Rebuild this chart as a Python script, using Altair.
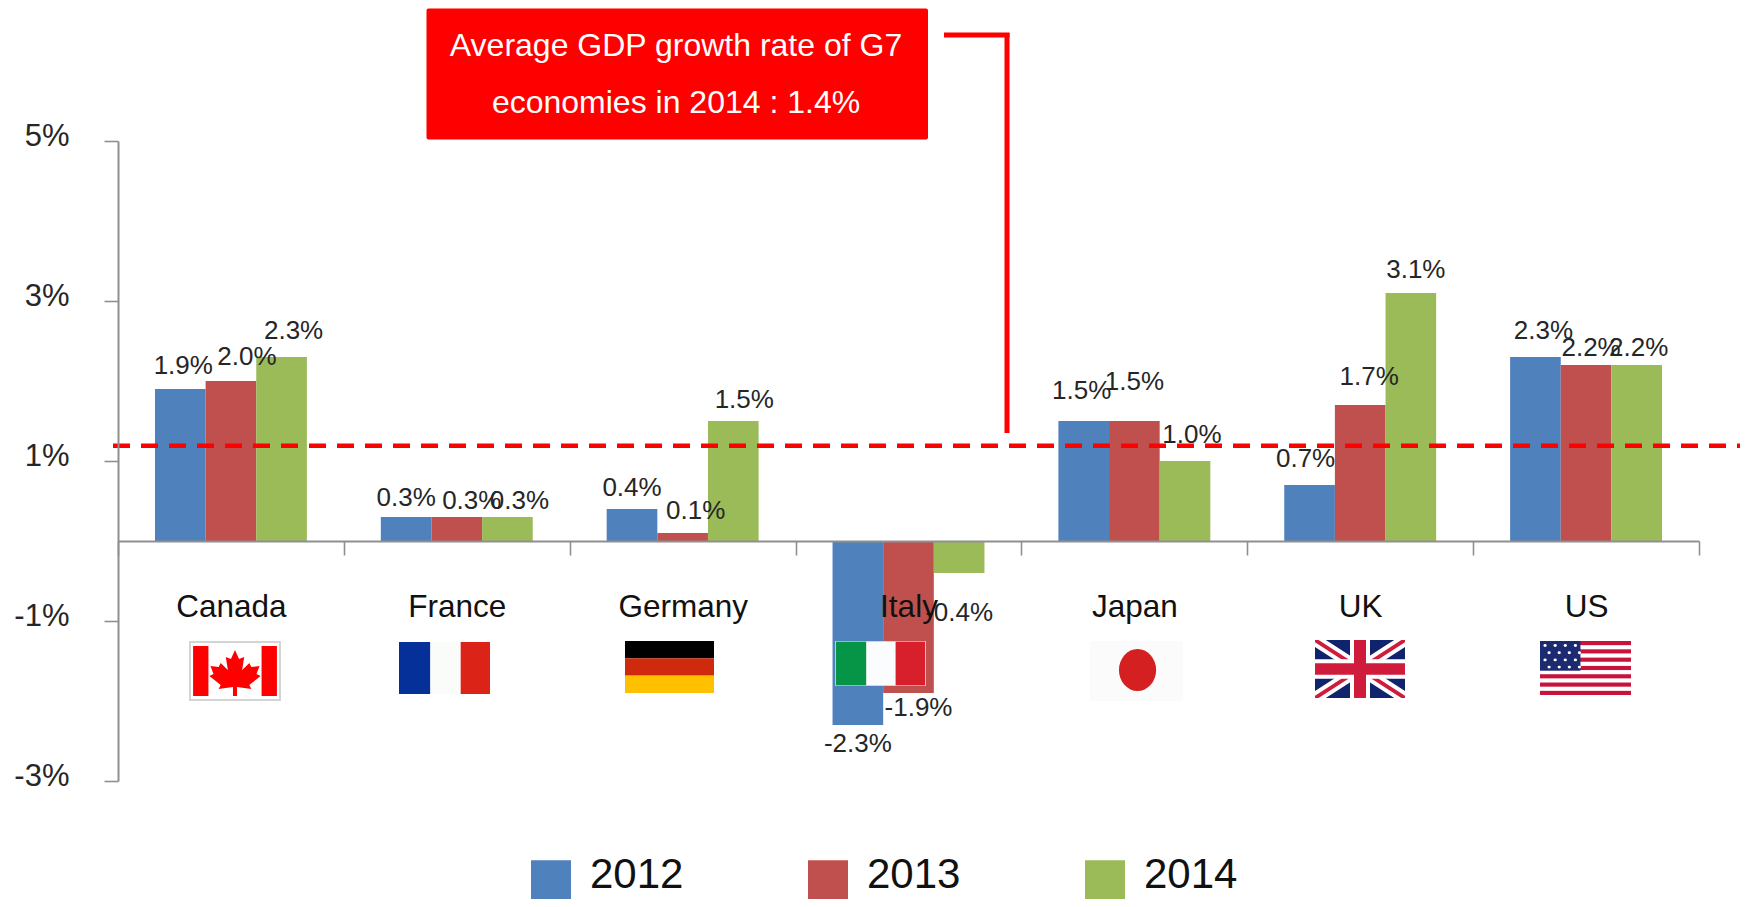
import base64
import altair as alt
import pandas as pd

# ---- chart values ----
countries = ["Canada", "France", "Germany", "Italy", "Japan", "UK", "US"]
years = ["2012", "2013", "2014"]
values_2012 = [1.9, 0.3, 0.4, -2.3, 1.5, 0.7, 2.3]
values_2013 = [2.0, 0.3, 0.1, -1.9, 1.5, 1.7, 2.2]
values_2014 = [2.3, 0.3, 1.5, -0.4, 1.0, 3.1, 2.2]
y_ticks = [-3, -1, 1, 3, 5]
average_line = 1.19
note_lines = ["Average GDP growth rate of G7", "economies in 2014 : 1.4%"]

# ---- styling ----
colors = ["#4f81bd", "#c0504d", "#9bbb59"]
FONT = "Liberation Sans"
AXIS = "#8f8f8f"
TEXT = "#262626"
OX, OY = 118, 141  # page position of plot origin
W, H = 1581, 640

# per-label nudges (dx, dy) in px, in row order country x year
label_nudges = [
    (3, -23), (16, -24), (12, -26),
    (0, -19), (15, -16), (12, -16),
    (0, -21), (13, -22), (11, -21),
    (0, 19), (10, 15), (0, 40),
    (-2, -30), (0, -39), (7, -26),
    (-4, -26), (9, -28), (5, -23),
    (8, -26), (5, -17), (2, -17),
]


def uri(body, w=90, h=60):
    svg = (f'<svg xmlns="http://www.w3.org/2000/svg" viewBox="0 0 {w} {h}" width="{w}" height="{h}" '
           f'preserveAspectRatio="none">{body}</svg>')
    return "data:image/svg+xml;base64," + base64.b64encode(svg.encode()).decode()


leaf = ("M45 9 L49 18 L54 16 L52 29 L59 22 L61 26 L69 25 L66 33 L70 35 L59 44 L61 48 L47 46 L47 55 "
        "L43 55 L43 46 L29 48 L31 44 L20 35 L24 33 L21 25 L29 26 L31 22 L38 29 L36 16 L41 18 Z")
flag_canada = uri('<rect width="90" height="60" fill="#d4d4d4"/><rect x="2" y="2" width="86" height="56" fill="#fff"/>'
                  '<rect x="4" y="5" width="15" height="50" fill="#f00"/><rect x="71" y="5" width="15" height="50" fill="#f00"/>'
                  f'<path d="{leaf}" fill="#f00"/>')
flag_france = uri('<rect width="31" height="60" fill="#05309a"/><rect x="31" width="30" height="60" fill="#fafcfa"/>'
                  '<rect x="61" width="29" height="60" fill="#dc2318"/>')
flag_germany = uri('<rect width="90" height="20" fill="#000"/><rect y="20" width="90" height="20" fill="#cf2a0e"/>'
                   '<rect y="40" width="90" height="20" fill="#ffc000"/>')
flag_italy = uri('<rect width="90" height="60" fill="#c9c9c9"/><rect x="1" y="1" width="30" height="58" fill="#069446"/>'
                 '<rect x="31" y="1" width="29" height="58" fill="#fafcfd"/><rect x="60" y="1" width="29" height="58" fill="#d8202c"/>')
flag_japan = uri('<rect width="90" height="60" fill="#fbfbfb"/><ellipse cx="46" cy="29" rx="18" ry="21" fill="#d42020"/>')
uk = '<rect width="90" height="60" fill="#10246e"/>'
uk += '<path d="M0 0L90 60M90 0L0 60" stroke="#fff" stroke-width="12"/>'
uk += '<path d="M0 0L90 60M90 0L0 60" stroke="#d01c3c" stroke-width="4"/>'
uk += '<path d="M45 0V60M0 30H90" stroke="#fff" stroke-width="20"/>'
uk += '<path d="M45 0V60M0 30H90" stroke="#d01c3c" stroke-width="12"/>'
flag_uk = uri(uk)
us = '<rect width="90" height="60" fill="#fff"/>'
for i in range(7):
    us += f'<rect y="{i * 9.23:.2f}" width="90" height="4.6" fill="#c8143c"/>'
us += '<rect width="40" height="33" fill="#1c2a72"/>'
for r in range(4):
    for c in range(4):
        us += f'<circle cx="{5 + c * 10 + (r % 2) * 4}" cy="{5 + r * 8}" r="1.6" fill="#fff"/>'
flag_us = uri(us)

# page-position boxes of the flags: left, top, right, bottom
flags = [
    (flag_canada, 189, 641, 281, 701),
    (flag_france, 399, 642, 490, 694),
    (flag_germany, 625, 641, 714, 693),
    (flag_italy, 835, 641, 926, 686),
    (flag_japan, 1090, 641, 1183, 701),
    (flag_uk, 1315, 640, 1405, 698),
    (flag_us, 1540, 641, 1631, 695),
]

rows = []
for ci, c in enumerate(countries):
    for y, series in zip(years, [values_2012, values_2013, values_2014]):
        v = series[ci]
        rows.append({"country": c, "year": y, "value": v, "label": f"{v:.1f}%"})
df = pd.DataFrame(rows)

x_enc = alt.X("country:N", scale=alt.Scale(domain=countries, paddingInner=0, paddingOuter=0),
              axis=alt.Axis(title=None, orient="bottom", offset=-240, tickBand="extent", labelAngle=0,
                            domainColor=AXIS, domainWidth=2.2, tickColor=AXIS, tickWidth=1.6, tickSize=14,
                            labelFont=FONT, labelFontSize=31.5, labelColor="#111", labelPadding=61,
                            labelBaseline="alphabetic", labelOverlap=False, labelFlush=False, labelBound=False,
                            grid=False, zindex=1))
y_scale = alt.Scale(domain=[-3, 5], nice=False, zero=False)
y_enc = alt.Y("value:Q", scale=y_scale,
              axis=alt.Axis(title=None, values=y_ticks, labelExpr="datum.value + '%'",
                            domainColor=AXIS, domainWidth=2, tickColor=AXIS, tickWidth=1.6, tickSize=14,
                            labelFont=FONT, labelFontSize=31, labelColor=TEXT, labelPadding=35, labelOffset=-4.5,
                            labelOverlap=False, labelFlush=False, labelBound=False, grid=False, zindex=1))
off_enc = alt.XOffset("year:N", scale=alt.Scale(domain=years, paddingInner=0, paddingOuter=0.73))

bars = alt.Chart(df).mark_bar().encode(
    x=x_enc,
    xOffset=off_enc,
    y=y_enc,
    y2=alt.Y2(datum=0),
    color=alt.Color("year:N", scale=alt.Scale(domain=years, range=colors),
                    legend=alt.Legend(title=None, orient="none", legendX=412, legendY=712.5, direction="horizontal",
                                      symbolType="M-1,-0.735H1V1.265H-1Z", symbolSize=1600, symbolStrokeWidth=0,
                                      labelFont=FONT, labelFontSize=42, labelColor="#111", labelOffset=18,
                                      columnPadding=123, symbolOpacity=1)),
)

dashed = alt.Chart(pd.DataFrame({"a": [average_line]})).mark_rule(
    color="#ff0000", strokeWidth=4.4, strokeDash=[17, 11]
).encode(y=alt.Y("a:Q", scale=y_scale), x=alt.value(113 - OX), x2=alt.value(1748 - OX))

box = alt.Chart(pd.DataFrame({"a": [0]})).mark_rect(color="#ff0000", cornerRadius=2).encode(
    x=alt.value(426.5 - OX), x2=alt.value(928 - OX), y=alt.value(8.5 - OY), y2=alt.value(139.5 - OY))

note_layers = []
for line, baseline_y in zip(note_lines, [55.5, 112.5]):
    note_layers.append(
        alt.Chart(pd.DataFrame({"t": [line]})).mark_text(
            font=FONT, fontSize=32, color="#ffffff", align="center", baseline="alphabetic"
        ).encode(text="t:N", x=alt.value(676 - OX), y=alt.value(baseline_y - OY))
    )

conn_h = alt.Chart(pd.DataFrame({"a": [0]})).mark_rule(color="#ff0000", strokeWidth=5).encode(
    x=alt.value(944 - OX), x2=alt.value(1009.5 - OX), y=alt.value(35 - OY))
conn_v = alt.Chart(pd.DataFrame({"a": [0]})).mark_rule(color="#ff0000", strokeWidth=5).encode(
    x=alt.value(1007 - OX), y=alt.value(33 - OY), y2=alt.value(433 - OY))

flag_layers = []
for url, l, t, r, b in flags:
    flag_layers.append(
        alt.Chart(pd.DataFrame({"a": [0]})).mark_image(
            url=url, width=r - l, height=b - t, align="left", baseline="top", aspect=False
        ).encode(x=alt.value(l - OX), y=alt.value(t - OY))
    )

label_layers = []
for row, (dx, dy) in zip(rows, label_nudges):
    label_layers.append(
        alt.Chart(pd.DataFrame([row])).mark_text(
            font=FONT, fontSize=26, color=TEXT, align="center", baseline="middle", dx=dx, dy=dy
        ).encode(x=x_enc, xOffset=off_enc, y=y_enc, text="label:N")
    )

chart = alt.layer(bars, *flag_layers, dashed, box, *note_layers, conn_h, conn_v, *label_layers).properties(
    width=W, height=H,
    padding={"left": OX - 8, "top": OY - 8, "right": 1732 - (OX - 8) - W, "bottom": 891 - (OY - 8) - H},
    autosize=alt.AutoSizeParams(type="none"),
    background="#ffffff",
).configure_view(stroke=None)

chart.save("out.html", embed_options={"renderer": "svg", "actions": False})
